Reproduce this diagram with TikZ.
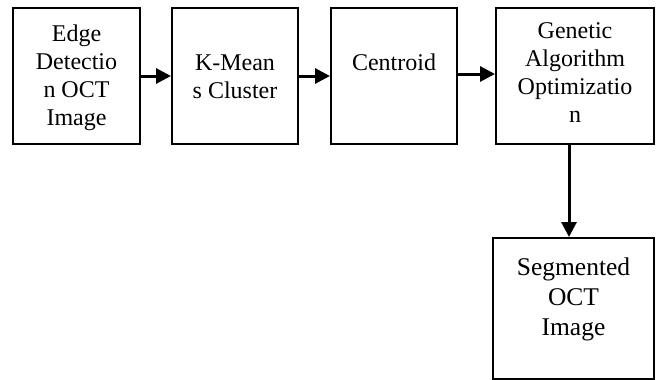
\documentclass[tikz,border=0pt]{standalone}
\usepackage{fontspec}
\setmainfont{Liberation Serif}
\usetikzlibrary{arrows.meta}
\begin{document}
\begin{tikzpicture}[x=1pt,y=-1pt,
  box/.style={draw=black,line width=2pt,inner sep=0pt},
  txt/.style={inner sep=0pt,align=center,anchor=base,font=\fontsize{24}{28}\selectfont},
  txtb/.style={inner sep=0pt,align=center,anchor=base,font=\fontsize{25.5}{30}\selectfont},
  arr/.style={line width=3pt,-{Triangle[length=15pt,width=15pt]}}]
\useasboundingbox (0,0) rectangle (657,380);
\node[box,minimum width=127pt,minimum height=136pt] (b1) at (76.5,76) {};
\node[box,minimum width=126pt,minimum height=136pt] (b2) at (235,76) {};
\node[box,minimum width=126pt,minimum height=136pt] (b3) at (394,76) {};
\node[box,minimum width=158pt,minimum height=136pt] (b4) at (575,76) {};
\node[box,minimum width=161pt,minimum height=141pt] (b5) at (573.5,308.5) {};
\node[txt] (t1) at (76.5,125) {Edge\\Detectio\\n OCT\\Image};
\node[txt] (t2) at (235,98) {K-Mean\\s Cluster};
\node[txt] (t3) at (394,70) {Centroid};
\node[txt] (t4) at (575,122) {Genetic\\Algorithm\\Optimizatio\\n};
\node[txtb] (t5) at (573.5,335) {Segmented\\OCT\\Image};
\draw[arr] (b1.east) -- (b2.west);
\draw[arr] (b2.east) -- (b3.west);
\draw[arr] (b3.east |- 0,74) -- (b4.west |- 0,74);
\draw[arr] (b4.south -| 569,0) -- (b5.north -| 569,0);
\end{tikzpicture}
\end{document}
